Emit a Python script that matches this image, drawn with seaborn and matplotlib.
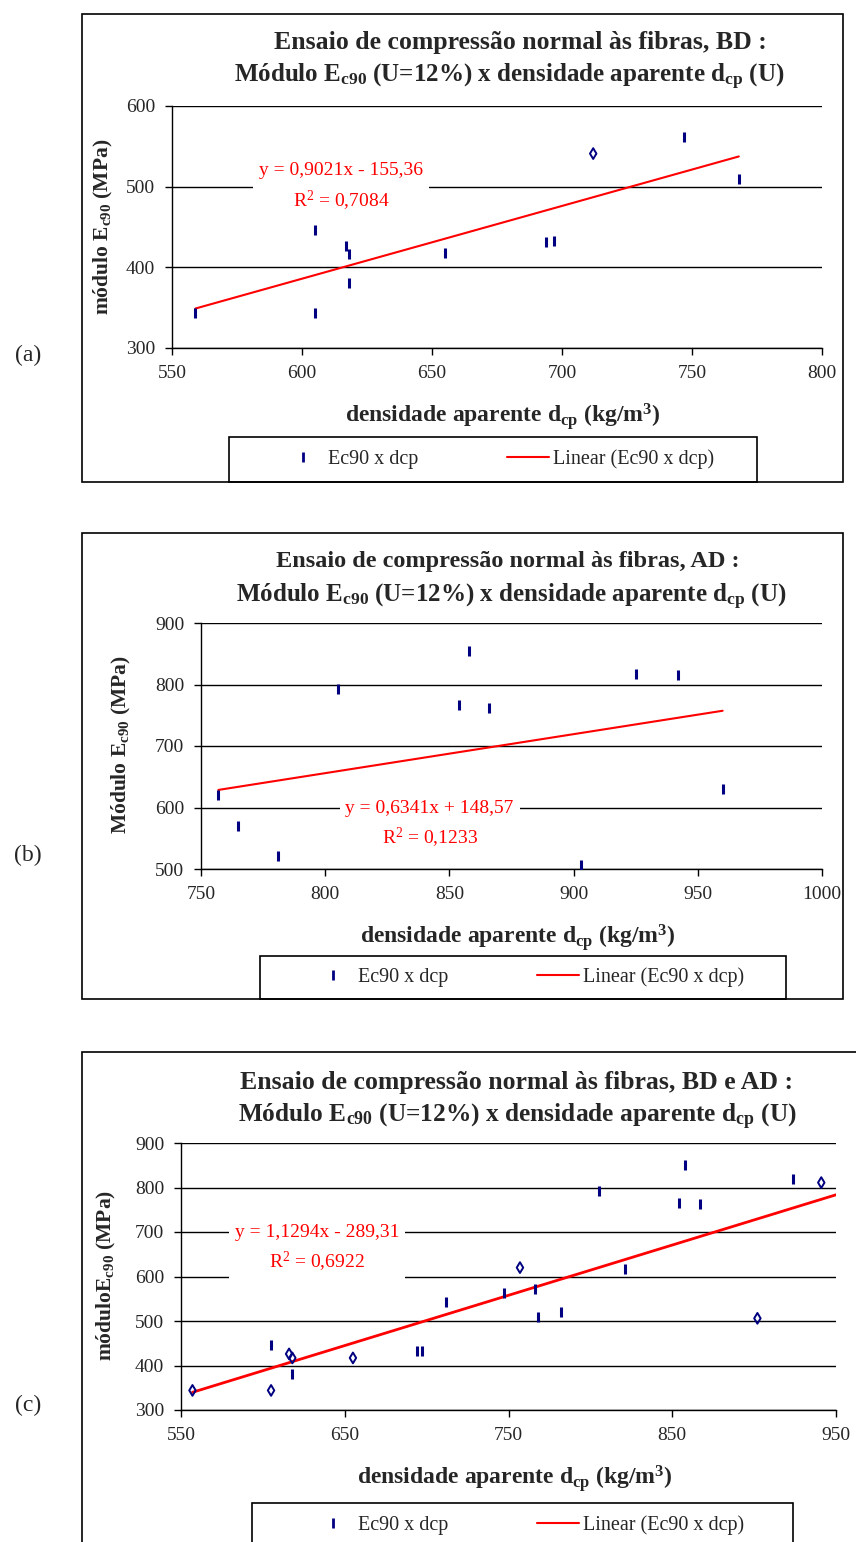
"""Ensaio de compressão normal às fibras: Ec90 x densidade aparente (BD, AD, BD e AD)."""

import matplotlib

matplotlib.use("Agg")

import matplotlib.pyplot as plt
import numpy as np
import pandas as pd
import seaborn as sns
from matplotlib.lines import Line2D
from matplotlib.patches import Rectangle

W, H = 856, 1542

# (a) BD
bd_dcp = [559, 605, 605, 617, 618, 618, 655, 694, 697, 712, 747, 768]
bd_ec90 = [344, 446, 343, 426, 416, 380, 418, 432, 433, 541, 561, 509]
bd_losango = [0, 0, 0, 0, 0, 0, 0, 0, 0, 1, 0, 0]
bd_reta = (0.9021, -155.36)
bd_texto = ["y = 0,9021x - 155,36", "R$^{2}$ = 0,7084"]

# (b) AD
ad_dcp = [757, 765, 781, 805, 854, 858, 866, 903, 925, 942, 960]
ad_ec90 = [620, 570, 521, 792, 766, 854, 762, 507, 817, 815, 630]
ad_losango = [0] * 11
ad_reta = (0.6341, 148.57)
ad_texto = ["y = 0,6341x + 148,57", "R$^{2}$ = 0,1233"]

# (c) BD e AD
td_dcp = [557, 605, 605, 616, 618, 618, 655, 694, 697, 712, 747, 757, 766, 768,
          782, 805, 821, 854, 858, 867, 902, 924, 941, 960]
td_ec90 = [344, 447, 344, 426, 417, 380, 417, 432, 432, 542, 562, 620, 571, 509,
           520, 792, 617, 766, 851, 763, 506, 819, 811, 630]
td_losango = [1, 0, 1, 1, 1, 0, 1, 0, 0, 0, 0, 1, 0, 0,
              0, 0, 0, 0, 0, 0, 1, 0, 1, 0]
td_reta = (1.1294, -289.31)
td_texto = ["y = 1,1294x - 289,31", "R$^{2}$ = 0,6922"]

NAVY = "#000080"
RED = "#FF0000"
SERIF = ["Liberation Serif", "DejaVu Serif"]


def fx(px):
    return px / W


def fy(py):
    return 1 - py / H


def painel(fig, box, dcp, ec90, losango, reta, texto, xlim, xticks, ylim, yticks,
           texto_pos, lw_reta=1.5):
    l, t, r, b = box
    ax = fig.add_axes([fx(l), fy(b), fx(r - l), (b - t) / H])
    df = pd.DataFrame({"dcp": dcp, "ec90": ec90, "losango": losango})

    sns.scatterplot(data=df[df["losango"] == 0], x="dcp", y="ec90", marker="|",
                    color=NAVY, s=55, linewidth=2.2, ax=ax, zorder=3)
    sns.scatterplot(data=df[df["losango"] == 1], x="dcp", y="ec90", marker="d",
                    color=NAVY, facecolor="none", edgecolor=NAVY, s=30,
                    linewidth=1.4, ax=ax, zorder=3)

    a, c = reta
    xs = np.array([df["dcp"].min(), df["dcp"].max()], dtype=float)
    linha = pd.DataFrame({"dcp": xs, "ec90": a * xs + c})
    sns.lineplot(data=linha, x="dcp", y="ec90", color=RED, lw=lw_reta, ax=ax, zorder=2)

    ax.set_xlim(*xlim)
    ax.set_ylim(*ylim)
    ax.set_xticks(xticks)
    ax.set_yticks(yticks)
    ax.set_xlabel("")
    ax.set_ylabel("")
    ax.yaxis.grid(True, color="black", lw=1.0)
    ax.xaxis.grid(False)
    ax.set_axisbelow(True)
    for s in ["top", "right"]:
        ax.spines[s].set_visible(False)
    for s in ["left", "bottom"]:
        ax.spines[s].set_color("black")
        ax.spines[s].set_linewidth(1.0)
    ax.tick_params(direction="out", length=5, width=1, color="black",
                   labelsize=14, pad=7)
    for lab in ax.get_xticklabels() + ax.get_yticklabels():
        lab.set_fontfamily(SERIF)

    tx, ty = texto_pos
    ax.text(tx, ty, "\n".join(texto), ha="center", va="center", color=RED,
            fontsize=14, family=SERIF, linespacing=1.5, zorder=4,
            bbox=dict(boxstyle="square,pad=0.3", facecolor="white", edgecolor="none"))
    return ax


def moldura(fig, l, t, r, b):
    fig.add_artist(Rectangle((fx(l), fy(b)), fx(r - l), (b - t) / H,
                             transform=fig.transFigure, fill=False,
                             edgecolor="black", lw=1.2))


def legenda(fig, l, t, r, b, cx, cy):
    moldura(fig, l, t, r, b)
    handles = [
        Line2D([], [], ls="none", marker="|", color=NAVY, markersize=7, mew=2),
        Line2D([], [], color=RED, lw=1.5),
    ]
    fig.legend(handles, ["Ec90 x dcp", "Linear (Ec90 x dcp)"], loc="center",
               bbox_to_anchor=(fx(cx), fy(cy)), ncol=2, frameon=False,
               prop={"family": SERIF, "size": 14.5}, handlelength=2.1,
               handletextpad=0.2, columnspacing=4.4)


def textos(fig, titulo1, titulo2, t1, t2, xl, ylab, yl, letra, letra_y):
    (t1x, t1y, t1s), (t2x, t2y, t2s) = t1, t2
    fig.text(fx(t1x), fy(t1y), titulo1, ha="center", va="center",
             fontsize=t1s, fontweight="bold", family=SERIF)
    fig.text(fx(t2x), fy(t2y), titulo2, ha="center", va="center",
             fontsize=t2s, fontweight="bold", family=SERIF)
    fig.text(fx(xl[0]), fy(xl[1]),
             r"densidade aparente $\mathbf{d}_{\mathbf{cp}}$ (kg/m$^{\mathbf{3}}$)",
             ha="center", va="center", fontsize=17, fontweight="bold", family=SERIF)
    fig.text(fx(yl[0]), fy(yl[1]), ylab, ha="center", va="center", rotation=90,
             fontsize=15.5, fontweight="bold", family=SERIF)
    fig.text(fx(28), fy(letra_y), letra, ha="center", va="center",
             fontsize=17, family=SERIF)


def main():
    sns.set_theme(style="ticks")
    plt.rcParams["font.family"] = SERIF
    plt.rcParams["mathtext.fontset"] = "custom"
    plt.rcParams["mathtext.rm"] = "Liberation Serif"
    plt.rcParams["mathtext.it"] = "Liberation Serif:italic"
    plt.rcParams["mathtext.bf"] = "Liberation Serif:bold"

    fig = plt.figure(figsize=(W / 100, H / 100), dpi=100)
    fig.patch.set_facecolor("white")

    sub2 = r"Módulo $\mathbf{E}_{\mathbf{c90}}$ (U=12%) x densidade aparente $\mathbf{d}_{\mathbf{cp}}$ (U)"

    # (a)
    moldura(fig, 82, 14, 843, 482)
    painel(fig, (172, 106, 822, 348), bd_dcp, bd_ec90, bd_losango, bd_reta, bd_texto,
           (550, 800), [550, 600, 650, 700, 750, 800], (300, 600), [300, 400, 500, 600],
           (615, 499))
    textos(fig, "Ensaio de compressão normal às fibras, BD :", sub2,
           (520, 42, 18.5), (509, 77, 18), (503, 416),
           r"módulo $\mathbf{E}_{\mathbf{c90}}$ (MPa)", (103, 227), "(a)", 355)
    legenda(fig, 229, 437, 757, 482, 498, 459)

    # (b)
    moldura(fig, 82, 533, 843, 999)
    painel(fig, (201, 623, 822, 869), ad_dcp, ad_ec90, ad_losango, ad_reta, ad_texto,
           (750, 1000), [750, 800, 850, 900, 950, 1000], (500, 900),
           [500, 600, 700, 800, 900], (842, 571))
    textos(fig, "Ensaio de compressão normal às fibras, AD :", sub2,
           (508, 561, 17.5), (511, 597, 18), (518, 938),
           r"Módulo $\mathbf{E}_{\mathbf{c90}}$ (MPa)", (121, 745), "(b)", 855)
    legenda(fig, 260, 956, 786, 999, 528, 977)

    # (c)
    moldura(fig, 82, 1052, 870, 1560)
    painel(fig, (181, 1143, 836, 1410), td_dcp, td_ec90, td_losango, td_reta, td_texto,
           (550, 950), [550, 650, 750, 850, 950], (300, 900),
           [300, 400, 500, 600, 700, 800, 900], (633, 662), lw_reta=2.0)
    textos(fig, "Ensaio de compressão normal às fibras, BD e AD :", sub2,
           (517, 1082, 18.5), (517, 1117, 18.3), (515, 1478),
           r"móduloE$_{\mathbf{c90}}$ (MPa)", (106, 1275), "(c)", 1405)
    legenda(fig, 252, 1503, 793, 1560, 528, 1525)

    fig.savefig("out.png", dpi=100, facecolor="white")


if __name__ == "__main__":
    main()
